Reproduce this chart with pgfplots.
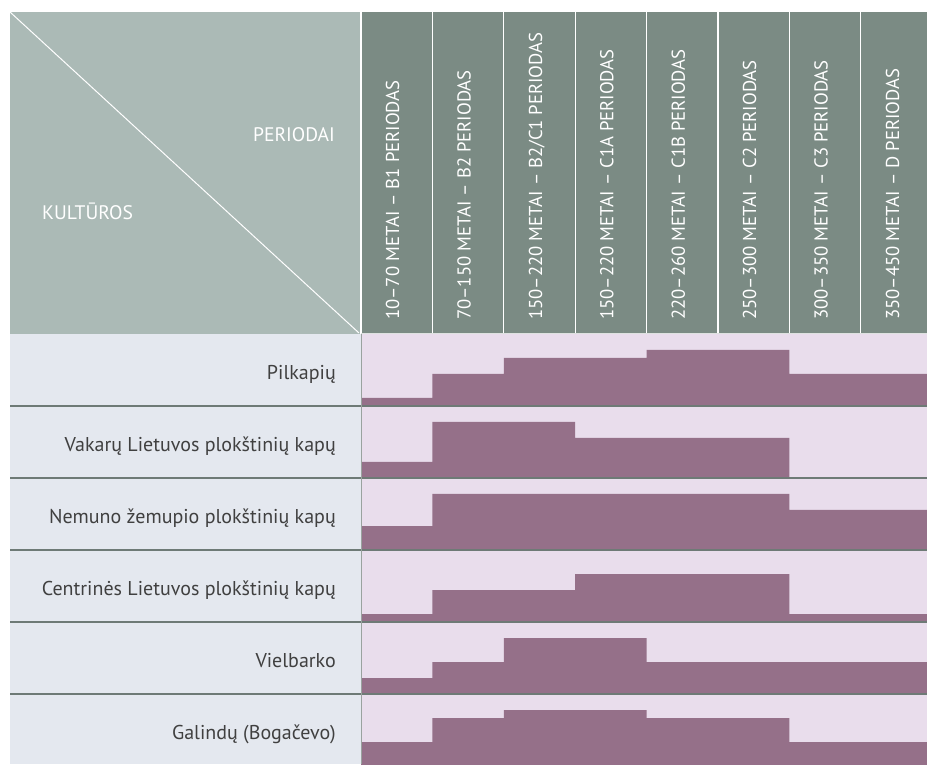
\documentclass[border=0pt]{standalone}
\usepackage{fontspec}
\setmainfont{PT Sans}
\usepackage{pgfplots}
\pgfplotsset{compat=1.18}

\definecolor{hdrL}{RGB}{171,186,182}
\definecolor{hdrC}{RGB}{123,139,132}
\definecolor{labbg}{RGB}{228,232,239}
\definecolor{rowbg}{RGB}{233,221,236}
\definecolor{mauve}{RGB}{149,112,137}
\definecolor{sepc}{RGB}{110,122,118}
\definecolor{labtext}{RGB}{64,64,64}

\pgfplotsset{
  row/.style={scale only axis, width=571.2pt, height=72pt, anchor=north west,
    xmin=0, xmax=8, ymin=0, ymax=9, axis line style={draw=none},
    xtick=\empty, ytick=\empty, clip=true,
    axis background/.style={fill=rowbg}},
  step/.style={const plot, fill=mauve, draw=none}
}
\newcommand{\lab}{\fontsize{20}{24}\selectfont}
\newcommand{\hdr}{\fontsize{18.7}{22}\selectfont}
\newcommand{\corner}{\fontsize{19.6}{23}\selectfont}

\begin{document}
\begin{tikzpicture}[x=1pt,y=1pt]
\useasboundingbox (0,0) rectangle (927,764);
\clip (0,0) rectangle (927,764);

% table cells
\fill[hdrL] (10,430) rectangle (361,752);
\fill[hdrC] (361,430) rectangle (932,752);
\fill[labbg] (10,0) rectangle (361,430);
\draw[white, line width=1pt] (10,752) -- (359,431);
\foreach \i in {0,...,7}
  \draw[white, line width=1.2pt] ({361+71.4*\i},430) -- ({361+71.4*\i},752);
\node[anchor=base east, text=white, font=\corner, inner sep=0pt] at (335,622) {PERIODAI};
\node[anchor=base west, text=white, font=\corner, inner sep=0pt] at (42,544) {KULTŪROS};

% Pilkapių
\begin{axis}[row, at={(361pt,430pt)},
  xtick={0.5,1.5,2.5,3.5,4.5,5.5,6.5,7.5},
  xticklabels={10–70 METAI – B1 PERIODAS, 70–150 METAI – B2 PERIODAS,
    150–220 METAI – B2/C1 PERIODAS, 150–220 METAI – C1A PERIODAS,
    220–260 METAI – C1B PERIODAS, 250–300 METAI – C2 PERIODAS,
    300–350 METAI – C3 PERIODAS, 350–450 METAI – D PERIODAS},
  xticklabel pos=upper, major tick length=0pt, xticklabel shift=14pt,
  xticklabel style={rotate=90, anchor=mid west, inner sep=0pt, text=white, font=\hdr}]
\addplot[step] coordinates {(0,1) (1,4) (2,6) (3,6) (4,7) (5,7) (6,4) (7,4) (8,4)} \closedcycle;
\end{axis}
% Vakarų Lietuvos
\begin{axis}[row, at={(361pt,358pt)}]
\addplot[step] coordinates {(0,2) (1,7) (2,7) (3,5) (4,5) (5,5) (6,0.12) (7,0.12) (8,0.12)} \closedcycle;
\end{axis}
% Nemuno žemupio
\begin{axis}[row, at={(361pt,286pt)}]
\addplot[step] coordinates {(0,3) (1,7) (2,7) (3,7) (4,7) (5,7) (6,5) (7,5) (8,5)} \closedcycle;
\end{axis}
% Centrinės Lietuvos
\begin{axis}[row, at={(361pt,214pt)}]
\addplot[step] coordinates {(0,1) (1,4) (2,4) (3,6) (4,6) (5,6) (6,1) (7,1) (8,1)} \closedcycle;
\end{axis}
% Vielbarko
\begin{axis}[row, at={(361pt,142pt)}]
\addplot[step] coordinates {(0,2) (1,4) (2,7) (3,7) (4,4) (5,4) (6,4) (7,4) (8,4)} \closedcycle;
\end{axis}
% Galindų
\begin{axis}[row, at={(361pt,70pt)}]
\addplot[step] coordinates {(0,3) (1,6) (2,7) (3,7) (4,6) (5,6) (6,3) (7,3) (8,3)} \closedcycle;
\end{axis}

% separators and row labels
\draw[white!75!hdrC, line width=1pt] (361,430) -- (927,430);
\foreach \y in {358,286,214,142,70}
  \draw[sepc, line width=1.5pt] (10,\y) -- (927,\y);
\draw[sepc!70!white, line width=1pt] (361,0) -- (361,430);
\foreach \t [count=\k from 0] in {Pilkapių, Vakarų Lietuvos plokštinių kapų,
    Nemuno žemupio plokštinių kapų, Centrinės Lietuvos plokštinių kapų,
    Vielbarko, Galindų (Bogačevo)}
  \node[anchor=base east, text=labtext, font=\lab, inner sep=0pt] at (336,{430-72*\k-45.5}) {\t};
\end{tikzpicture}
\end{document}
